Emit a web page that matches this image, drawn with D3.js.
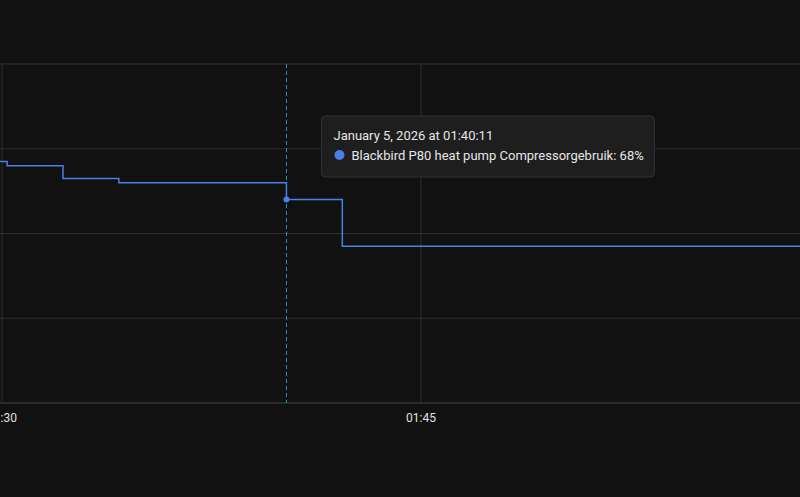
<!DOCTYPE html>
<html>
<head>
<meta charset="utf-8" />
<script src="https://d3js.org/d3.v7.min.js"></script>
<style>
  body { margin: 0; background: #111111; font-family: Roboto, "Noto Sans", sans-serif; }
</style>
</head>
<body>
<div id="chart"></div>
<script>
  // step series: time (seconds after 01:30:00) and compressor use %
  const times = [-10, 11, 131, 251, 611, 731];
  const values = [77, 76, 73, 72, 68, 57];
  const yTicks = [20, 40, 60, 80, 100];
  const xTicks = [0, 900];
  const xTickLabels = ["01:30", "01:45"];
  const hoverIndex = 4;
  const tooltipTitle = "January 5, 2026 at 01:40:11";
  const seriesName = "Blackbird P80 heat pump Compressorgebruik";

  const width = 800, height = 497;
  const lineColor = "#4a7fe8";

  const x = d3.scaleLinear().domain([0, 900]).range([2, 421]);
  const y = d3.scaleLinear().domain([20, 100]).range([403, 64]);

  const svg = d3.select("#chart").append("svg")
    .attr("width", width).attr("height", height);

  svg.append("rect").attr("width", width).attr("height", height).attr("fill", "#111111");

  // horizontal grid
  svg.selectAll(".hgrid").data(yTicks).enter().append("line")
    .attr("x1", 0).attr("x2", width)
    .attr("y1", d => y(d)).attr("y2", d => y(d))
    .attr("stroke", d => d === 20 ? "#444" : "#2e2e2e").attr("stroke-width", 1);

  // vertical grid
  svg.selectAll(".vgrid").data(xTicks).enter().append("line")
    .attr("x1", d => x(d)).attr("x2", d => x(d))
    .attr("y1", y(100)).attr("y2", y(20))
    .attr("stroke", "#2e2e2e");

  // x axis labels
  svg.selectAll(".xl").data(xTicks).enter().append("text")
    .attr("x", d => x(d)).attr("y", 422)
    .attr("text-anchor", "middle")
    .attr("fill", "#e0e0e0").attr("font-size", 12)
    .text((d, i) => xTickLabels[i]);

  // step line
  const pts = times.map((t, i) => [t, values[i]]);
  pts.push([x.invert(width + 5), values[values.length - 1]]);
  const line = d3.line().x(d => x(d[0])).y(d => y(d[1])).curve(d3.curveStepAfter);
  svg.append("path").datum(pts)
    .attr("d", line).attr("fill", "none")
    .attr("stroke", lineColor).attr("stroke-width", 1.5);

  // crosshair
  const hx = x(times[hoverIndex]);
  svg.append("line")
    .attr("x1", hx).attr("x2", hx).attr("y1", y(100)).attr("y2", y(20))
    .attr("stroke", "#1f93c9").attr("stroke-width", 1).attr("stroke-dasharray", "4,3");
  svg.append("circle").attr("cx", hx).attr("cy", y(values[hoverIndex]))
    .attr("r", 3).attr("fill", lineColor);

  // tooltip
  const tip = svg.append("g").attr("transform", `translate(${hx + 35},116)`);
  tip.append("rect").attr("width", 333).attr("height", 61).attr("rx", 4)
    .attr("fill", "#1e1e1e").attr("stroke", "#333");
  tip.append("text").attr("x", 12).attr("y", 24)
    .attr("fill", "#e6e6e6").attr("font-size", 13).text(tooltipTitle);
  tip.append("circle").attr("cx", 18).attr("cy", 39).attr("r", 5).attr("fill", lineColor);
  tip.append("text").attr("x", 30).attr("y", 44)
    .attr("fill", "#e6e6e6").attr("font-size", 13)
    .text(`${seriesName}: ${values[hoverIndex]}%`);
</script>
</body>
</html>
